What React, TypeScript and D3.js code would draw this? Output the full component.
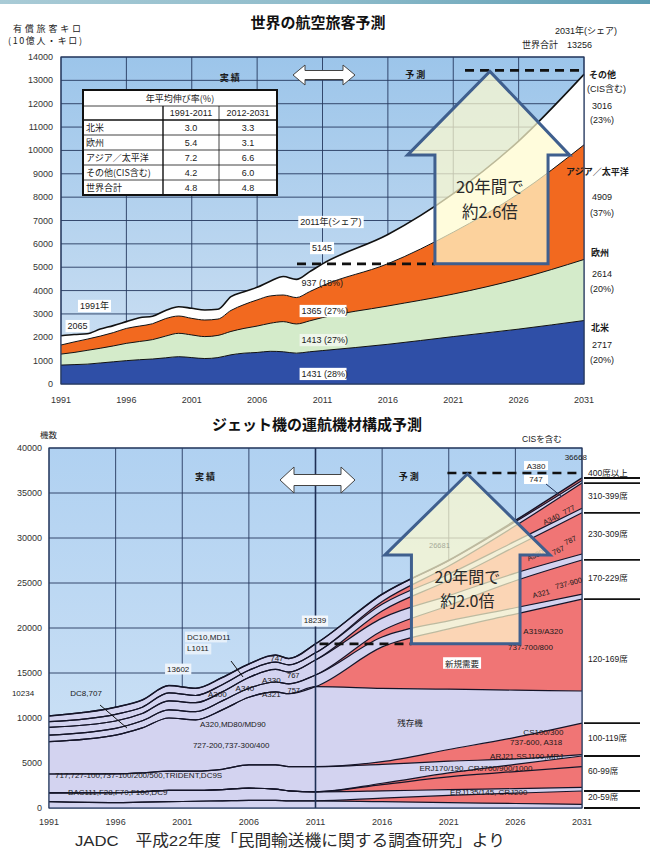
import React from 'react';
import * as d3 from 'd3';

const W = 650;
const H = 850;
const FONT = '"Liberation Sans", "Noto Sans CJK JP", sans-serif';
const JP = '"Noto Sans CJK JP", "Liberation Sans", sans-serif';

// ---------- Top chart: 世界の航空旅客予測 (10億人・キロ) ----------
const paxYears = [1991, 1992, 1993, 1994, 1995, 1996, 1997, 1998, 1999, 2000, 2001, 2002, 2003, 2004, 2005, 2006, 2007, 2008, 2009, 2010, 2011, 2016, 2021, 2026, 2031];
const paxNorthAmerica = [810, 830, 850, 900, 950, 1000, 1040, 1070, 1120, 1170, 1130, 1090, 1130, 1250, 1320, 1350, 1400, 1380, 1320, 1380, 1431, 1700, 2030, 2350, 2717];
const paxEurope = [470, 520, 590, 630, 680, 740, 780, 830, 930, 1000, 970, 940, 950, 1000, 1060, 1130, 1200, 1290, 1250, 1320, 1413, 1640, 1820, 2150, 2614];
const paxAsiaPacific = [390, 450, 480, 520, 570, 640, 660, 680, 750, 740, 710, 710, 700, 900, 1020, 1120, 1170, 1140, 1130, 1250, 1365, 1810, 2650, 3650, 4909];
const paxOther = [395, 320, 230, 300, 300, 290, 360, 320, 350, 400, 430, 430, 420, 590, 550, 540, 630, 790, 780, 850, 936, 1250, 1650, 2250, 3016];
const paxTicksX = [1991, 1996, 2001, 2006, 2011, 2016, 2021, 2026, 2031];
const paxTicksY = [0, 1000, 2000, 3000, 4000, 5000, 6000, 7000, 8000, 9000, 10000, 11000, 12000, 13000, 14000];
const paxTotal2011 = 5145;
const paxTotal2031 = 13256;

const growthRegions = ['北米', '欧州', 'アジア／太平洋', 'その他(CIS含む)', '世界合計'];
const growth1991to2011 = ['3.0', '5.4', '7.2', '4.2', '4.8'];
const growth2012to2031 = ['3.3', '3.1', '6.6', '6.0', '4.8'];

// ---------- Bottom chart: ジェット機の運航機材構成予測 (機数) ----------
const fleetYears = [1991, 1996, 1998, 2000, 2002, 2004, 2006, 2008, 2009, 2011, 2016, 2021, 2026, 2031];
const fleetRet20 = [700, 600, 650, 700, 750, 800, 850, 850, 800, 800, 700, 600, 500, 400];
const fleetNew20 = [0, 0, 0, 0, 0, 0, 0, 0, 0, 0, 400, 800, 1150, 1490];
const fleetRet60 = [970, 1100, 1150, 1250, 1200, 1250, 1350, 1250, 1100, 1000, 800, 650, 500, 410];
const fleetNew60a = [0, 0, 0, 0, 0, 0, 0, 0, 0, 0, 700, 1400, 1900, 2290];
const fleetNew60b = [0, 0, 0, 0, 0, 0, 0, 0, 0, 0, 150, 450, 800, 1190];
const fleetRet100 = [2110, 2100, 2100, 2150, 2150, 2250, 2600, 2700, 2700, 2790, 2100, 1300, 600, 150];
const fleetNew100 = [0, 0, 0, 0, 0, 0, 0, 0, 0, 0, 300, 1300, 2400, 3510];
const fleetRet120 = [3590, 4300, 5000, 5900, 5700, 6600, 7500, 8100, 8100, 8890, 8150, 6700, 5250, 3560];
const fleetNew120 = [0, 0, 0, 0, 0, 0, 0, 0, 0, 0, 4600, 6700, 8450, 10200];
const fleetRet170 = [730, 750, 800, 900, 900, 1000, 1000, 1100, 1100, 1300, 1100, 900, 700, 550];
const fleetNew170 = [0, 0, 0, 0, 0, 0, 0, 0, 0, 0, 700, 1700, 3000, 3810];
const fleetRet230 = [860, 820, 800, 1000, 1000, 1000, 1200, 1400, 1300, 1660, 1400, 1100, 850, 660];
const fleetNew230 = [0, 0, 0, 0, 0, 0, 0, 0, 0, 0, 800, 1700, 2950, 4580];
const fleetRet310 = [630, 740, 700, 900, 800, 800, 800, 800, 800, 800, 750, 680, 600, 500];
const fleetNew310 = [0, 0, 0, 0, 0, 0, 0, 0, 0, 0, 300, 900, 1700, 2800];
const fleetRet400 = [644, 790, 800, 802, 800, 800, 700, 800, 700, 999, 800, 600, 450, 300];
const fleetNew400 = [0, 0, 0, 0, 0, 0, 0, 0, 0, 0, 0, 50, 150, 268];
const fleetTicksX = [1991, 1996, 2001, 2006, 2011, 2016, 2021, 2026, 2031];
const fleetTicksY = [0, 5000, 10000, 15000, 20000, 25000, 30000, 35000, 40000];
const fleetTotal2011 = 18239;
const fleetTotal2031 = 36668;
const seatClassLabels = ['20-59席', '60-99席', '100-119席', '120-169席', '170-229席', '230-309席', '310-399席', '400席以上'];

const fleetLayerDefs = [
  { key: 'r20', vals: fleetRet20, kind: 'ret', cls: 0 },
  { key: 'n20', vals: fleetNew20, kind: 'new', cls: 0 },
  { key: 'r60', vals: fleetRet60, kind: 'ret', cls: 1 },
  { key: 'n60a', vals: fleetNew60a, kind: 'new', cls: 1 },
  { key: 'n60b', vals: fleetNew60b, kind: 'new', cls: 1 },
  { key: 'r100', vals: fleetRet100, kind: 'ret', cls: 2 },
  { key: 'n100', vals: fleetNew100, kind: 'new', cls: 2 },
  { key: 'r120', vals: fleetRet120, kind: 'ret', cls: 3 },
  { key: 'n120', vals: fleetNew120, kind: 'new', cls: 3 },
  { key: 'r170', vals: fleetRet170, kind: 'ret', cls: 4 },
  { key: 'n170', vals: fleetNew170, kind: 'new', cls: 4 },
  { key: 'r230', vals: fleetRet230, kind: 'ret', cls: 5 },
  { key: 'n230', vals: fleetNew230, kind: 'new', cls: 5 },
  { key: 'r310', vals: fleetRet310, kind: 'ret', cls: 6 },
  { key: 'n310', vals: fleetNew310, kind: 'new', cls: 6 },
  { key: 'r400', vals: fleetRet400, kind: 'ret', cls: 7 },
  { key: 'n400', vals: fleetNew400, kind: 'new', cls: 7 },
];

function textW(s: string, size: number) {
  let w = 0;
  for (const ch of s) {
    const c = ch.charCodeAt(0);
    if (c > 0x2000) w += size;
    else if (ch === ' ') w += size * 0.28;
    else if (ch === '(' || ch === ')' || ch === ',' || ch === '.' || ch === '/') w += size * 0.3;
    else w += size * 0.556;
  }
  return w;
}

type TxtProps = {
  x: number; y: number; t: string; size?: number; anchor?: 'start' | 'middle' | 'end';
  box?: boolean; weight?: number; fill?: string; family?: string; rotate?: number; opacity?: number;
  boxFill?: string;
};
function Txt({ x, y, t, size = 9, anchor = 'start', box = false, weight = 400, fill = '#1a1a1a', family = FONT, rotate = 0, opacity = 1, boxFill = '#ffffff' }: TxtProps) {
  const w = textW(t, size);
  const x0 = anchor === 'start' ? x : anchor === 'middle' ? x - w / 2 : x - w;
  return (
    <g transform={rotate ? `rotate(${rotate} ${x} ${y})` : undefined} opacity={opacity}>
      {box && <rect x={x0 - 2} y={y - size * 0.68} width={w + 4} height={size * 1.36} fill={boxFill} />}
      <text x={x} y={y} fontSize={size} textAnchor={anchor} dominantBaseline="central" fontWeight={weight} fill={fill} fontFamily={family}>{t}</text>
    </g>
  );
}

function doubleArrow(x0: number, x1: number, cy: number, h: number, s: number, hw: number) {
  return `M${x0},${cy} L${x0 + hw},${cy - h / 2} L${x0 + hw},${cy - s / 2} L${x1 - hw},${cy - s / 2} L${x1 - hw},${cy - h / 2} L${x1},${cy} L${x1 - hw},${cy + h / 2} L${x1 - hw},${cy + s / 2} L${x0 + hw},${cy + s / 2} L${x0 + hw},${cy + h / 2} Z`;
}

function upArrow(tip: [number, number], headL: number, headR: number, headY: number, shaftL: number, shaftR: number, baseY: number) {
  return `M${tip[0]},${tip[1]} L${headR},${headY} L${shaftR},${headY} L${shaftR},${baseY} L${shaftL},${baseY} L${shaftL},${headY} L${headL},${headY} Z`;
}

export default function App() {
  // ---------------- top chart ----------------
  const xT = d3.scaleLinear().domain([1991, 2031]).range([61, 584]);
  const yT = d3.scaleLinear().domain([0, 14000]).range([384, 57]);
  const paxRows = paxYears.map((yr, i) => ({ year: yr, na: paxNorthAmerica[i], eu: paxEurope[i], asia: paxAsiaPacific[i], other: paxOther[i] }));
  const paxStack = d3.stack<any>().keys(['na', 'eu', 'asia', 'other'])(paxRows);
  const areaT = d3.area<any>().x((d) => xT(d.data.year)).y0((d) => yT(d[0])).y1((d) => yT(d[1])).curve(d3.curveMonotoneX);
  const lineT = d3.line<any>().x((d) => xT(d.data.year)).y((d) => yT(d[1])).curve(d3.curveMonotoneX);
  const paxColors = ['#2f4fa7', '#d4ebca', '#f2691f', '#ffffff'];

  // ---------------- bottom chart ----------------
  const xB = d3.scaleLinear().domain([1991, 2031]).range([49, 582]);
  const yB = d3.scaleLinear().domain([0, 40000]).range([808, 448]);
  const fleetRows = fleetYears.map((yr, i) => {
    const r: any = { year: yr };
    fleetLayerDefs.forEach((l) => { r[l.key] = l.vals[i]; });
    return r;
  });
  const fleetStack = d3.stack<any>().keys(fleetLayerDefs.map((l) => l.key))(fleetRows);
  const areaB = d3.area<any>().x((d) => xB(d.data.year)).y0((d) => yB(d[0])).y1((d) => yB(d[1])).curve(d3.curveMonotoneX);
  const lineB = d3.line<any>().x((d) => xB(d.data.year)).y((d) => yB(d[1])).curve(d3.curveMonotoneX);
  const last = fleetYears.length - 1;
  const classTops: number[] = [];
  fleetLayerDefs.forEach((l, i) => {
    const next = fleetLayerDefs[i + 1];
    if (!next || next.cls !== l.cls) classTops.push(fleetStack[i][last][1]);
  });

  const arrowStroke = '#3f5f8e';
  const arrowFill = '#fffbcf';

  const tTopY = yT(paxTotal2031) - 4;
  const bTopY = yB(fleetTotal2031) - 5;
  const tArrow = upArrow([xT(2023.8), tTopY + 1], xT(2017.5), xT(2029.9), yT(9800), xT(2019.6), xT(2028.25), yT(paxTotal2011));
  const bArrow = upArrow([xB(2022.4), bTopY + 1], xB(2016.2), xB(2028.6), yB(28100), xB(2018.2), xB(2026.35), yB(fleetTotal2011));

  return (
    <svg width={W} height={H} viewBox={`0 0 ${W} ${H}`} style={{ position: 'absolute', left: 0, top: 0, background: '#fff' }} xmlns="http://www.w3.org/2000/svg">
      <defs>
        <linearGradient id="topStrip" x1="0" x2="1" y1="0" y2="0">
          <stop offset="0" stopColor="#a9cbd6" />
          <stop offset="0.5" stopColor="#8fbccb" />
          <stop offset="1" stopColor="#5d9db3" />
        </linearGradient>
        <linearGradient id="bgTop" x1="0" x2="0" y1="0" y2="1">
          <stop offset="0" stopColor="#9cc5ea" />
          <stop offset="1" stopColor="#cfe1f3" />
        </linearGradient>
        <linearGradient id="bgBot" x1="0" x2="0" y1="0" y2="1">
          <stop offset="0" stopColor="#b0d1f1" />
          <stop offset="1" stopColor="#d0e3f6" />
        </linearGradient>
      </defs>
      <rect x={0} y={0} width={W} height={H} fill="#ffffff" />
      <rect x={0} y={0} width={W} height={4} fill="url(#topStrip)" />

      {/* ================= TOP CHART ================= */}
      <Txt x={318} y={21} t="世界の航空旅客予測" size={15} anchor="middle" weight={700} family={JP} fill="#111" />
      <text x={13} y={32} fontSize={9} fontFamily={JP} fill="#222" textLength={68} lengthAdjust="spacing">有償旅客キロ</text>
      <text x={8} y={44} fontSize={9} fontFamily={JP} fill="#222" textLength={74} lengthAdjust="spacing">(10億人・キロ)</text>

      <rect x={xT(1991)} y={yT(14000)} width={xT(2031) - xT(1991)} height={yT(0) - yT(14000)} fill="url(#bgTop)" />
      {paxTicksY.map((v) => (
        <line key={'gty' + v} x1={xT(1991)} x2={xT(2031)} y1={yT(v)} y2={yT(v)} stroke="#26395f" strokeWidth={0.9} />
      ))}
      {paxTicksX.map((v) => (
        <line key={'gtx' + v} x1={xT(v)} x2={xT(v)} y1={yT(0)} y2={yT(14000)} stroke="#26395f" strokeWidth={0.9} />
      ))}
      {paxStack.map((s, i) => (
        <path key={'pa' + i} d={areaT(s) || ''} fill={paxColors[i]} />
      ))}
      {paxStack.map((s, i) => (
        <path key={'pl' + i} d={lineT(s) || ''} fill="none" stroke="#111" strokeWidth={i === 3 ? 1.6 : 1} />
      ))}
      <rect x={xT(1991)} y={yT(14000)} width={xT(2031) - xT(1991)} height={yT(0) - yT(14000)} fill="none" stroke="#26395f" strokeWidth={1.2} />

      {paxTicksY.map((v) => (
        <Txt key={'ty' + v} x={53} y={yT(v)} t={String(v)} size={9} anchor="end" fill="#333" />
      ))}
      {paxTicksX.map((v) => (
        <Txt key={'tx' + v} x={xT(v)} y={400} t={String(v)} size={9} anchor="middle" fill="#333" />
      ))}

      <Txt x={xT(2003.9)} y={yT(13140)} t="実 績" size={9} anchor="middle" weight={700} family={JP} />
      <Txt x={xT(2018.1)} y={yT(13230)} t="予 測" size={9} anchor="middle" weight={700} family={JP} />
      <path d={doubleArrow(293, 355, 75, 20, 9, 12)} fill="#fff" stroke="#444" strokeWidth={1} />

      {/* growth table */}
      {(() => {
        const cx = [83, 163, 219, 277];
        const ry = [90, 106, 120, 135, 150, 165, 180, 195];
        return (
          <g>
            <rect x={cx[0]} y={ry[0]} width={cx[3] - cx[0]} height={ry[7] - ry[0]} fill="#fff" />
            {ry.slice(1, 7).map((y, i) => (
              <line key={'tr' + i} x1={cx[0]} x2={cx[3]} y1={y} y2={y} stroke="#111" strokeWidth={i === 1 ? 1.6 : 0.8} />
            ))}
            <line x1={cx[1]} x2={cx[1]} y1={ry[1]} y2={ry[7]} stroke="#111" strokeWidth={1.4} />
            <line x1={cx[2]} x2={cx[2]} y1={ry[1]} y2={ry[7]} stroke="#111" strokeWidth={0.8} />
            <rect x={cx[0]} y={ry[0]} width={cx[3] - cx[0]} height={ry[7] - ry[0]} fill="none" stroke="#111" strokeWidth={2} />
            <Txt x={(cx[0] + cx[3]) / 2} y={(ry[0] + ry[1]) / 2} t="年平均伸び率(%)" size={9} anchor="middle" family={JP} />
            <Txt x={(cx[1] + cx[2]) / 2} y={(ry[1] + ry[2]) / 2} t="1991-2011" size={9} anchor="middle" />
            <Txt x={(cx[2] + cx[3]) / 2} y={(ry[1] + ry[2]) / 2} t="2012-2031" size={9} anchor="middle" />
            {growthRegions.map((r, i) => (
              <g key={'gr' + i}>
                <Txt x={cx[0] + 3} y={(ry[i + 2] + ry[i + 3]) / 2} t={r} size={9} family={JP} />
                <Txt x={(cx[1] + cx[2]) / 2} y={(ry[i + 2] + ry[i + 3]) / 2} t={growth1991to2011[i]} size={9} anchor="middle" />
                <Txt x={(cx[2] + cx[3]) / 2} y={(ry[i + 2] + ry[i + 3]) / 2} t={growth2012to2031[i]} size={9} anchor="middle" />
              </g>
            ))}
          </g>
        );
      })()}

      {/* in-plot annotations */}
      <Txt x={xT(1992.45)} y={yT(3340)} t="1991年" size={9} box />
      <Txt x={xT(1991.5)} y={yT(2480)} t="2065" size={9} box />
      <Txt x={xT(2009.3)} y={yT(6935)} t="2011年(シェア)" size={9} box />
      <Txt x={xT(2010.2)} y={yT(5820)} t="5145" size={9} box />
      <Txt x={xT(2009.4)} y={yT(4320)} t="937 (18%)" size={9} />
      <Txt x={xT(2009.4)} y={yT(3125)} t="1365 (27%)" size={9} box />
      <Txt x={xT(2009.4)} y={yT(1880)} t="1413 (27%)" size={9} box boxFill="#eef6ea" />
      <Txt x={xT(2009.4)} y={yT(430)} t="1431 (28%)" size={9} box />

      {/* right labels */}
      <Txt x={555} y={31} t="2031年(シェア)" size={9} />
      <Txt x={522} y={45} t="世界合計　13256" size={9} />
      <Txt x={589} y={75} t="その他" size={9} weight={700} />
      <Txt x={587} y={89} t="(CIS含む)" size={9} />
      <Txt x={592} y={106} t="3016" size={9} />
      <Txt x={590} y={120} t="(23%)" size={9} />
      <Txt x={566} y={172} t="アジア／太平洋" size={9} weight={700} />
      <Txt x={592} y={197} t="4909" size={9} />
      <Txt x={590} y={213} t="(37%)" size={9} />
      <Txt x={591} y={253} t="欧州" size={9} weight={700} />
      <Txt x={592} y={274} t="2614" size={9} />
      <Txt x={590} y={289} t="(20%)" size={9} />
      <Txt x={591} y={328} t="北米" size={9} weight={700} />
      <Txt x={592} y={345} t="2717" size={9} />
      <Txt x={590} y={360} t="(20%)" size={9} />

      {/* dashed lines + big arrow */}
      <line x1={xT(2021.9)} x2={xT(2031)} y1={tTopY} y2={tTopY} stroke="#111" strokeWidth={2.6} strokeDasharray="9,6" />
      <line x1={xT(2009.05)} x2={xT(2019.6)} y1={yT(paxTotal2011)} y2={yT(paxTotal2011)} stroke="#111" strokeWidth={2.6} strokeDasharray="9,6" />
      <path d={tArrow} fill={arrowFill} fillOpacity={0.72} stroke={arrowStroke} strokeWidth={3} />
      <Txt x={xT(2023.8)} y={186} t="20年間で" size={16.5} anchor="middle" family={JP} fill="#2a2a2a" />
      <Txt x={xT(2023.8)} y={211} t="約2.6倍" size={16.5} anchor="middle" family={JP} fill="#2a2a2a" />

      {/* ================= BOTTOM CHART ================= */}
      <Txt x={317} y={423} t="ジェット機の運航機材構成予測" size={15} anchor="middle" weight={700} family={JP} fill="#111" />
      <Txt x={40} y={434} t="機数" size={8.5} family={JP} />
      <Txt x={522} y={439} t="CISを含む" size={8.5} />

      <rect x={xB(1991)} y={yB(40000)} width={xB(2031) - xB(1991)} height={yB(0) - yB(40000)} fill="url(#bgBot)" />
      {fleetTicksY.map((v) => (
        <line key={'gby' + v} x1={xB(1991)} x2={xB(2031)} y1={yB(v)} y2={yB(v)} stroke="#26395f" strokeWidth={0.9} />
      ))}
      {fleetTicksX.filter((v) => v !== 2011).map((v) => (
        <line key={'gbx' + v} x1={xB(v)} x2={xB(v)} y1={yB(0)} y2={yB(40000)} stroke="#26395f" strokeWidth={0.9} />
      ))}
      {fleetStack.map((s, i) => (
        <path key={'fa' + i} d={areaB(s) || ''} fill={fleetLayerDefs[i].kind === 'ret' ? '#d3d3f0' : '#f07575'} />
      ))}
      {fleetStack.map((s, i) => (
        <path key={'fl' + i} d={lineB(s) || ''} fill="none" stroke="#141428" strokeWidth={i === fleetStack.length - 1 ? 1.5 : 1.2} />
      ))}
      <line x1={xB(2011)} x2={xB(2011)} y1={yB(0)} y2={yB(40000)} stroke="#1e2f55" strokeWidth={1.6} />
      <rect x={xB(1991)} y={yB(40000)} width={xB(2031) - xB(1991)} height={yB(0) - yB(40000)} fill="none" stroke="#26395f" strokeWidth={1.2} />

      {fleetTicksY.map((v) => (
        <Txt key={'by' + v} x={42} y={yB(v)} t={String(v)} size={9} anchor="end" fill="#333" />
      ))}
      {fleetTicksX.map((v) => (
        <Txt key={'bx' + v} x={xB(v)} y={822} t={String(v)} size={9} anchor="middle" fill="#333" />
      ))}

      {/* right class separators */}
      {[0, ...classTops].map((v, i) => (
        <line key={'cs' + i} x1={584} x2={640} y1={yB(v)} y2={yB(v)} stroke="#111" strokeWidth={1.8} />
      ))}
      {seatClassLabels.map((t, i) => {
        const lo = i === 0 ? 0 : classTops[i - 1];
        const hi = classTops[i];
        const y = i === seatClassLabels.length - 1 ? yB(hi) - 5 : (yB(lo) + yB(hi)) / 2 - 2;
        return <Txt key={'cl' + i} x={588} y={y} t={t} size={8.5} />;
      })}

      <Txt x={xB(2002.7)} y={yB(36780)} t="実 績" size={9} anchor="middle" weight={700} family={JP} />
      <Txt x={xB(2018.0)} y={yB(36780)} t="予 測" size={9} anchor="middle" weight={700} family={JP} />
      <path d={doubleArrow(280, 355, 480, 26, 11, 14)} fill="#fff" stroke="#444" strokeWidth={1} />

      {/* historical annotations */}
      <Txt x={23} y={yB(12670)} t="10234" size={8} anchor="middle" />
      <Txt x={xB(1992.6)} y={yB(12670)} t="DC8,707" size={8} />
      <line x1={xB(1994.83)} y1={yB(11440)} x2={xB(1996.85)} y2={yB(8890)} stroke="#111" strokeWidth={1} />
      <Txt x={xB(2001.36)} y={yB(19000)} t="DC10,MD11" size={8} box boxFill="#e6f0fa" />
      <Txt x={xB(2001.36)} y={yB(17670)} t="L1011" size={8} box boxFill="#e6f0fa" />
      <line x1={xB(2004.66)} y1={yB(16330)} x2={xB(2005.56)} y2={yB(14560)} stroke="#111" strokeWidth={1} />
      <Txt x={xB(1999.86)} y={yB(15440)} t="13602" size={8} box boxFill="#eef4fb" />
      <Txt x={xB(2007.6)} y={yB(16560)} t="747" size={8} />
      <Txt x={xB(2006.98)} y={yB(14220)} t="A330" size={8} />
      <Txt x={xB(2008.86)} y={yB(14670)} t="767" size={7.5} />
      <Txt x={xB(2005.0)} y={yB(13330)} t="A340" size={8} />
      <Txt x={xB(2008.9)} y={yB(13110)} t="757" size={7.5} />
      <Txt x={xB(2002.93)} y={yB(12560)} t="A300" size={8} />
      <Txt x={xB(2006.98)} y={yB(12560)} t="A321" size={8} />
      <Txt x={xB(2002.33)} y={yB(9330)} t="A320,MD80/MD90" size={8} />
      <Txt x={xB(2001.8)} y={yB(7000)} t="727-200,737-300/400" size={8} />
      <Txt x={xB(1991.45)} y={yB(3560)} t="717,727-100,737-100/200/500,TRIDENT,DC9S" size={8} />
      <Txt x={xB(1992.43)} y={yB(1670)} t="BAC111,F28,F70,F100,DC9" size={8} />
      <Txt x={xB(2010.96)} y={yB(20780)} t="18239" size={8} anchor="middle" box boxFill="#f2f6fb" />

      {/* dashed lines */}
      <line x1={xB(2020.9)} x2={xB(2031)} y1={bTopY} y2={bTopY} stroke="#111" strokeWidth={2.6} strokeDasharray="9,6" />
      <line x1={xB(2011.3)} x2={xB(2018.2)} y1={yB(fleetTotal2011)} y2={yB(fleetTotal2011)} stroke="#111" strokeWidth={2.6} strokeDasharray="9,6" />

      {/* forecast annotations */}
      <Txt x={xB(2029.7)} y={yB(39000)} t="36668" size={8} />
      <rect x={xB(2026.65)} y={yB(38550)} width={24} height={9} fill="#fff" />
      <rect x={xB(2026.65)} y={bTopY + 2} width={24} height={9} fill="#fff" />
      <Txt x={xB(2027.55)} y={yB(37950)} t="A380" size={8} anchor="middle" />
      <Txt x={xB(2027.55)} y={bTopY + 6.5} t="747" size={8} anchor="middle" />
      <line x1={xB(2028.3)} y1={bTopY + 11} x2={xB(2029.5)} y2={yB(34560)} stroke="#1e2f55" strokeWidth={1} />
      <Txt x={xB(2029.6)} y={yB(32780)} t="777" size={7.5} rotate={-28} />
      <Txt x={xB(2028.1)} y={yB(31670)} t="A340" size={7.5} rotate={-25} />
      <Txt x={xB(2029.7)} y={yB(29440)} t="787" size={7.5} rotate={-25} />
      <Txt x={xB(2028.8)} y={yB(28330)} t="767" size={7.5} rotate={-25} />
      <Txt x={xB(2026.9)} y={yB(27670)} t="A330" size={7.5} rotate={-25} />
      <Txt x={xB(2029.0)} y={yB(24560)} t="737-900" size={7.5} rotate={-15} />
      <Txt x={xB(2027.3)} y={yB(23560)} t="A321" size={7.5} rotate={-15} />
      <Txt x={xB(2026.6)} y={yB(19560)} t="A319/A320" size={8} />
      <Txt x={xB(2025.45)} y={yB(17780)} t="737-700/800" size={8} />
      <Txt x={xB(2022.0)} y={yB(16110)} t="新規需要" size={8.5} anchor="middle" box family={JP} />
      <Txt x={xB(2018.1)} y={yB(9560)} t="残存機" size={8.5} anchor="middle" family={JP} />
      <Txt x={xB(2026.6)} y={yB(8440)} t="CS100/300" size={8} />
      <Txt x={xB(2025.6)} y={yB(7330)} t="737-600, A318" size={8} />
      <Txt x={xB(2024.1)} y={yB(5670)} t="ARJ21,SSJ100,MRJ" size={8} />
      <Txt x={xB(2018.8)} y={yB(4440)} t="ERJ170/190, CRJ700/900/1000" size={8} />
      <Txt x={xB(2021.1)} y={yB(1670)} t="ERJ135/145, CRJ200" size={8} />

      {/* big arrow */}
      <path d={bArrow} fill={arrowFill} fillOpacity={0.72} stroke={arrowStroke} strokeWidth={3} />
      <Txt x={xB(2020.3)} y={yB(29220)} t="26681" size={7.5} anchor="middle" opacity={0.35} />
      <Txt x={xB(2022.4)} y={576} t="20年間で" size={16} anchor="middle" family={JP} fill="#2a2a2a" />
      <Txt x={xB(2022.4)} y={600} t="約2.0倍" size={16} anchor="middle" family={JP} fill="#2a2a2a" />

      {/* source */}
      <text x={75} y={846} fontSize={15.5} fontFamily={FONT} fill="#2a2a2a" textLength={430} lengthAdjust="spacingAndGlyphs">JADC　平成22年度「民間輸送機に関する調査研究」より</text>
    </svg>
  );
}
